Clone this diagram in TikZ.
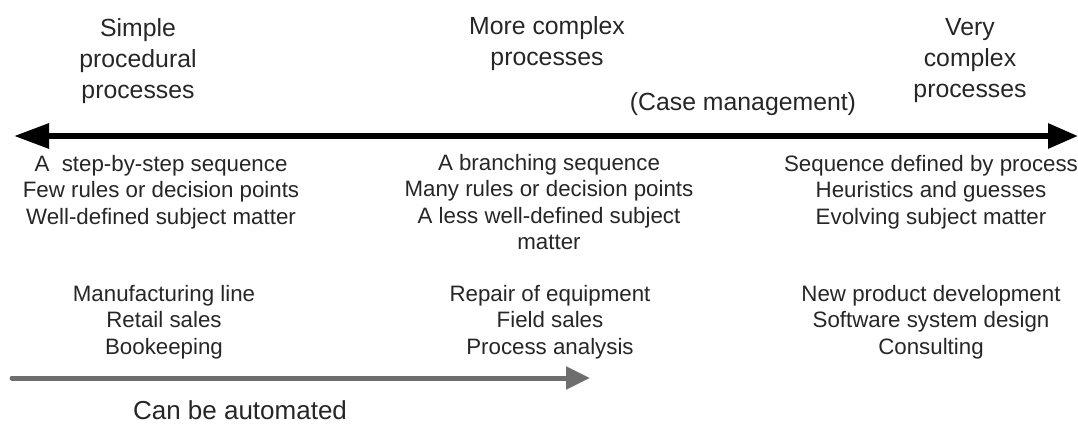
\documentclass[tikz,border=0pt]{standalone}
\usepackage{fontspec}
\setmainfont{Liberation Sans}
\usepackage{xcolor}
\usetikzlibrary{arrows.meta,positioning}

\definecolor{txtgray}{HTML}{262626}
\definecolor{autogray}{HTML}{6E6E6E}

\tikzset{
    head/.style={align=center,text=txtgray,font=\fontsize{24.8}{31}\selectfont},
    body/.style={align=center,text=txtgray,font=\fontsize{22.3}{26.5}\selectfont},
    spanarrow/.style={line width=6pt,{Triangle[length=35pt,width=24pt]}-{Triangle[length=30pt,width=24pt]}},
    autoarrow/.style={line width=5pt,draw=autogray,line cap=round,-{Triangle[length=24pt,width=22pt]}}
}

\begin{document}
\begin{tikzpicture}[x=1pt,y=-1pt]
    \useasboundingbox (0,0) rectangle (1078,423);

    \node [head] (simple) at (138,61) {Simple\\procedural\\processes};
    \node [head] (more) at (547,44) {More complex\\processes};
    \node [head] (very) at (970,61) {Very\\complex\\processes};
    \node [head] (casemgmt) at (743,104) {(Case management)};

    \coordinate (spanL) at (14,136);
    \coordinate (spanR) at (1078,136);
    \draw [spanarrow] (spanL) -- (spanR);

    \node [body] (simpletrait) at (161,192) {A\ \ step-by-step sequence\\Few rules or decision points\\Well-defined subject matter};
    \node [body] (moretrait) at (549,202) {A branching sequence\\Many rules or decision points\\A less well-defined subject\\matter};
    \node [body] (verytrait) at (931,192) {Sequence defined by process\\Heuristics and guesses\\Evolving subject matter};

    \node [body] (simpleex) at (164,322) {Manufacturing line\\Retail sales\\Bookeeping};
    \node [body] (moreex) at (550,322) {Repair of equipment\\Field sales\\Process analysis};
    \node [body] (veryex) at (931,322) {New product development\\Software system design\\Consulting};

    \coordinate (autoL) at (12,378);
    \coordinate (autoR) at (590,378);
    \draw [autoarrow] (autoL) -- (autoR);
    \node [head,font=\fontsize{26}{31}\selectfont] (auto) at (240,410) {Can be automated};
\end{tikzpicture}
\end{document}
